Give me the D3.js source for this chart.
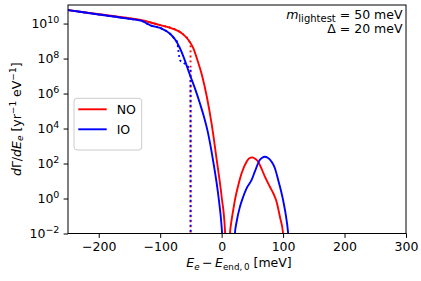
<!DOCTYPE html>
<html>
<head>
<meta charset="utf-8">
<script src="https://cdn.jsdelivr.net/npm/d3@7"></script>
<style>
  body { margin: 0; background: #fff; }
  text { font-family: "DejaVu Sans", sans-serif; }
</style>
</head>
<body>
<svg></svg>
<script>
// -----------------------------
// DATA
// -----------------------------
const noX = [-250, -200, -150, -130, -100, -80, -63, -54, -46, -40, -32, -24, -16, -8, 0, 5.4, 7];
const noY = [5.9e10, 3.4e10, 2.0e10, 1.55e10, 8.1e9, 5.2e9, 2.5e9, 1.15e9, 3.8e8, 9.5e7, 1.1e7, 6.3e5, 1.6e4, 1.6e2, 1.26, 1.6e-2, 1e-3];

const ioX = [-250, -200, -150, -130, -116, -100, -84, -76, -68, -62, -52, -43, -35, -29, -22.8, -13.6, -5.5, 0, 3];
const ioY = [5.9e10, 3.3e10, 1.86e10, 1.41e10, 7.9e9, 5.6e9, 2.6e9, 1.26e9, 4.0e8, 1.26e8, 1.26e7, 1.8e6, 2.5e5, 5.0e4, 7.1e3, 1.26e2, 1.6, 2.5e-2, 6e-4];

const noDotX = [-250, -200, -150, -130, -100, -80, -63, -54, -50.6, -50.5];
const noDotY = [5.9e10, 3.4e10, 2.0e10, 1.55e10, 8.1e9, 5.2e9, 2.5e9, 1.15e9, 6.3e8, 1e-5];

const ioDotX = [-250, -200, -150, -130, -116, -100, -84, -76, -72.2, -70.6, -67.8, -62.4, -57, -52.7, -50.6, -50.5];
const ioDotY = [5.9e10, 3.3e10, 1.86e10, 1.41e10, 7.9e9, 5.6e9, 2.6e9, 1.26e9, 8.9e8, 3.1e8, 8.1e7, 5.8e7, 4.3e7, 2.75e7, 2.4e7, 1e-5];

const noBumpX = [11, 13.5, 16.2, 18.9, 21.6, 27, 32.5, 40.6, 45, 49.6, 54, 59.5, 65, 70.4, 78.5, 84, 89.4, 94.8, 100, 102];
const noBumpY = [3.2e-4, 1e-2, 5.9e-2, 0.22, 0.81, 5.6, 27.5, 126, 200, 224, 190, 126, 50, 17.8, 4.7, 2.0, 0.66, 0.091, 1e-2, 1e-3];

const ioBumpX = [19.5, 21.6, 24.4, 29.8, 35.1, 40.6, 48.8, 54, 62, 66, 70.4, 75, 81.3, 86.7, 92, 100, 104, 108.3, 110.5];
const ioBumpY = [3.2e-4, 1e-2, 4.7e-2, 0.34, 1.26, 3.8, 11.5, 34, 158, 214, 245, 214, 126, 54, 11.5, 0.81, 0.14, 1e-2, 1e-3];

const xTicks = [-200, -100, 0, 100, 200, 300];
const yTickExp = [-2, 0, 2, 4, 6, 8, 10];

const zip = (xs, ys) => xs.map((x, i) => ({x: x, y: ys[i]}));

// -----------------------------
// SETUP
// -----------------------------
let width = 421,
    height = 281;

let margin = { top: 5, bottom: 47.5, left: 68, right: 15 };

let svg = d3.select("svg")
            .attr("width", width)
            .attr("height", height);

let fs = 12.5;

// -----------------------------
// SCALES
// -----------------------------
let xScale = d3.scaleLinear()
               .domain([-250, 300])
               .range([margin.left, width - margin.right]);

let yScale = d3.scaleLog()
               .domain([1e-2, 1.15e11])
               .range([height - margin.bottom, margin.top]);

svg.append("clipPath").attr("id", "plot")
   .append("rect")
   .attr("x", margin.left).attr("y", margin.top)
   .attr("width", width - margin.left - margin.right)
   .attr("height", height - margin.top - margin.bottom);

// -----------------------------
// LINES
// -----------------------------
let line = d3.line()
             .x(d => xScale(d.x))
             .y(d => yScale(d.y))
             .curve(d3.curveMonotoneX);

let g = svg.append("g").attr("clip-path", "url(#plot)");

function draw(data, color, dotted, offset) {
  let p = g.append("path")
           .attr("d", line(data))
           .attr("fill", "none")
           .attr("stroke", color)
           .attr("stroke-width", 1.9);
  if (dotted) {
    p.attr("stroke-dasharray", "1.9,3.1")
     .attr("stroke-dashoffset", offset);
  }
}

draw(zip(noX, noY), "red", false);
draw(zip(noBumpX, noBumpY), "red", false);
draw(zip(noDotX, noDotY), "red", true, 2.5);
draw(zip(ioX, ioY), "blue", false);
draw(zip(ioBumpX, ioBumpY), "blue", false);
draw(zip(ioDotX, ioDotY), "blue", true, 0);

// -----------------------------
// AXES
// -----------------------------
let xAxis = svg.append("g")
   .attr("transform", `translate(0, ${height - margin.bottom})`)
   .call(d3.axisBottom(xScale).tickValues(xTicks).tickSize(4.4).tickPadding(4.2).tickSizeOuter(0));

let yAxis = svg.append("g")
   .attr("transform", `translate(${margin.left}, 0)`)
   .call(d3.axisLeft(yScale).tickValues(yTickExp.map(e => Math.pow(10, e)))
         .tickSize(4.4).tickPadding(4.2).tickSizeOuter(0));

[xAxis, yAxis].forEach(a => {
  a.select(".domain").remove();
  a.selectAll("line").attr("stroke", "#000").attr("stroke-width", 1);
  a.selectAll("text").attr("font-size", fs).attr("font-family", "DejaVu Sans").attr("fill", "#000");
});

yAxis.selectAll(".tick text").each(function(d, i) {
  let t = d3.select(this);
  let e = yTickExp[i];
  t.text(null);
  t.append("tspan").text("10");
  t.append("tspan").attr("dy", -5).attr("font-size", 9.5)
   .text(e < 0 ? "\u2212" + (-e) : e);
});

svg.append("rect")
   .attr("x", margin.left).attr("y", margin.top)
   .attr("width", width - margin.left - margin.right)
   .attr("height", height - margin.top - margin.bottom)
   .attr("fill", "none").attr("stroke", "#000").attr("stroke-width", 1);

// -----------------------------
// LABELS
// -----------------------------
let xl = svg.append("text")
   .attr("x", (margin.left + width - margin.right) / 2 + 2)
   .attr("y", 267)
   .attr("font-size", fs)
   .style("text-anchor", "middle");
xl.append("tspan").attr("font-style", "italic").text("E");
xl.append("tspan").attr("font-style", "italic").attr("font-size", 8.75).attr("dy", 2.5).text("e");
xl.append("tspan").attr("dy", -2.5).text("\u2009\u2212\u2009");
xl.append("tspan").attr("font-style", "italic").text("E");
xl.append("tspan").attr("font-size", 8.75).attr("dy", 2.5).text("end,\u20090");
xl.append("tspan").attr("dy", -2.5).text(" [meV]");

let yl = svg.append("text")
   .attr("transform", `translate(20.5, ${(margin.top + height - margin.bottom) / 2}) rotate(-90)`)
   .attr("font-size", fs)
   .style("text-anchor", "middle");
yl.append("tspan").attr("font-style", "italic").text("d");
yl.append("tspan").text("\u0393/");
yl.append("tspan").attr("font-style", "italic").text("dE");
yl.append("tspan").attr("font-style", "italic").attr("font-size", 9).attr("dy", 2.5).text("e");
yl.append("tspan").attr("dy", -2.5).text(" [yr");
yl.append("tspan").attr("font-size", 9).attr("dy", -5).text("\u22121");
yl.append("tspan").attr("dy", 5).text(" eV");
yl.append("tspan").attr("font-size", 9).attr("dy", -5).text("\u22121");
yl.append("tspan").attr("dy", 5).text("]");

// annotation
let a1 = svg.append("text")
   .attr("x", 402.5).attr("y", 19)
   .attr("font-size", fs)
   .style("text-anchor", "end");
a1.append("tspan").attr("font-style", "italic").text("m");
a1.append("tspan").attr("font-size", 10).attr("dy", 2.5).text("lightest");
a1.append("tspan").attr("dy", -2.5).text(" = 50 meV");

svg.append("text")
   .attr("x", 402.5).attr("y", 33)
   .attr("font-size", fs)
   .style("text-anchor", "end")
   .text("\u0394 = 20 meV");

// -----------------------------
// LEGEND
// -----------------------------
let legend = svg.append("g");
legend.append("rect")
      .attr("x", 74).attr("y", 98.3)
      .attr("width", 67.7).attr("height", 51.7)
      .attr("rx", 3)
      .attr("fill", "#fff").attr("fill-opacity", 0.8)
      .attr("stroke", "#cccccc").attr("stroke-width", 1);

let legendItems = [{name: "NO", color: "red"}, {name: "IO", color: "blue"}];
legendItems.forEach((d, i) => {
  let y = 109.3 + i * 20;
  legend.append("line")
        .attr("x1", 78.3).attr("x2", 106.7)
        .attr("y1", y).attr("y2", y)
        .attr("stroke", d.color).attr("stroke-width", 1.9);
  legend.append("text")
        .attr("x", 116.7).attr("y", y + 4.5)
        .attr("font-size", fs)
        .text(d.name);
});
</script>
</body>
</html>
